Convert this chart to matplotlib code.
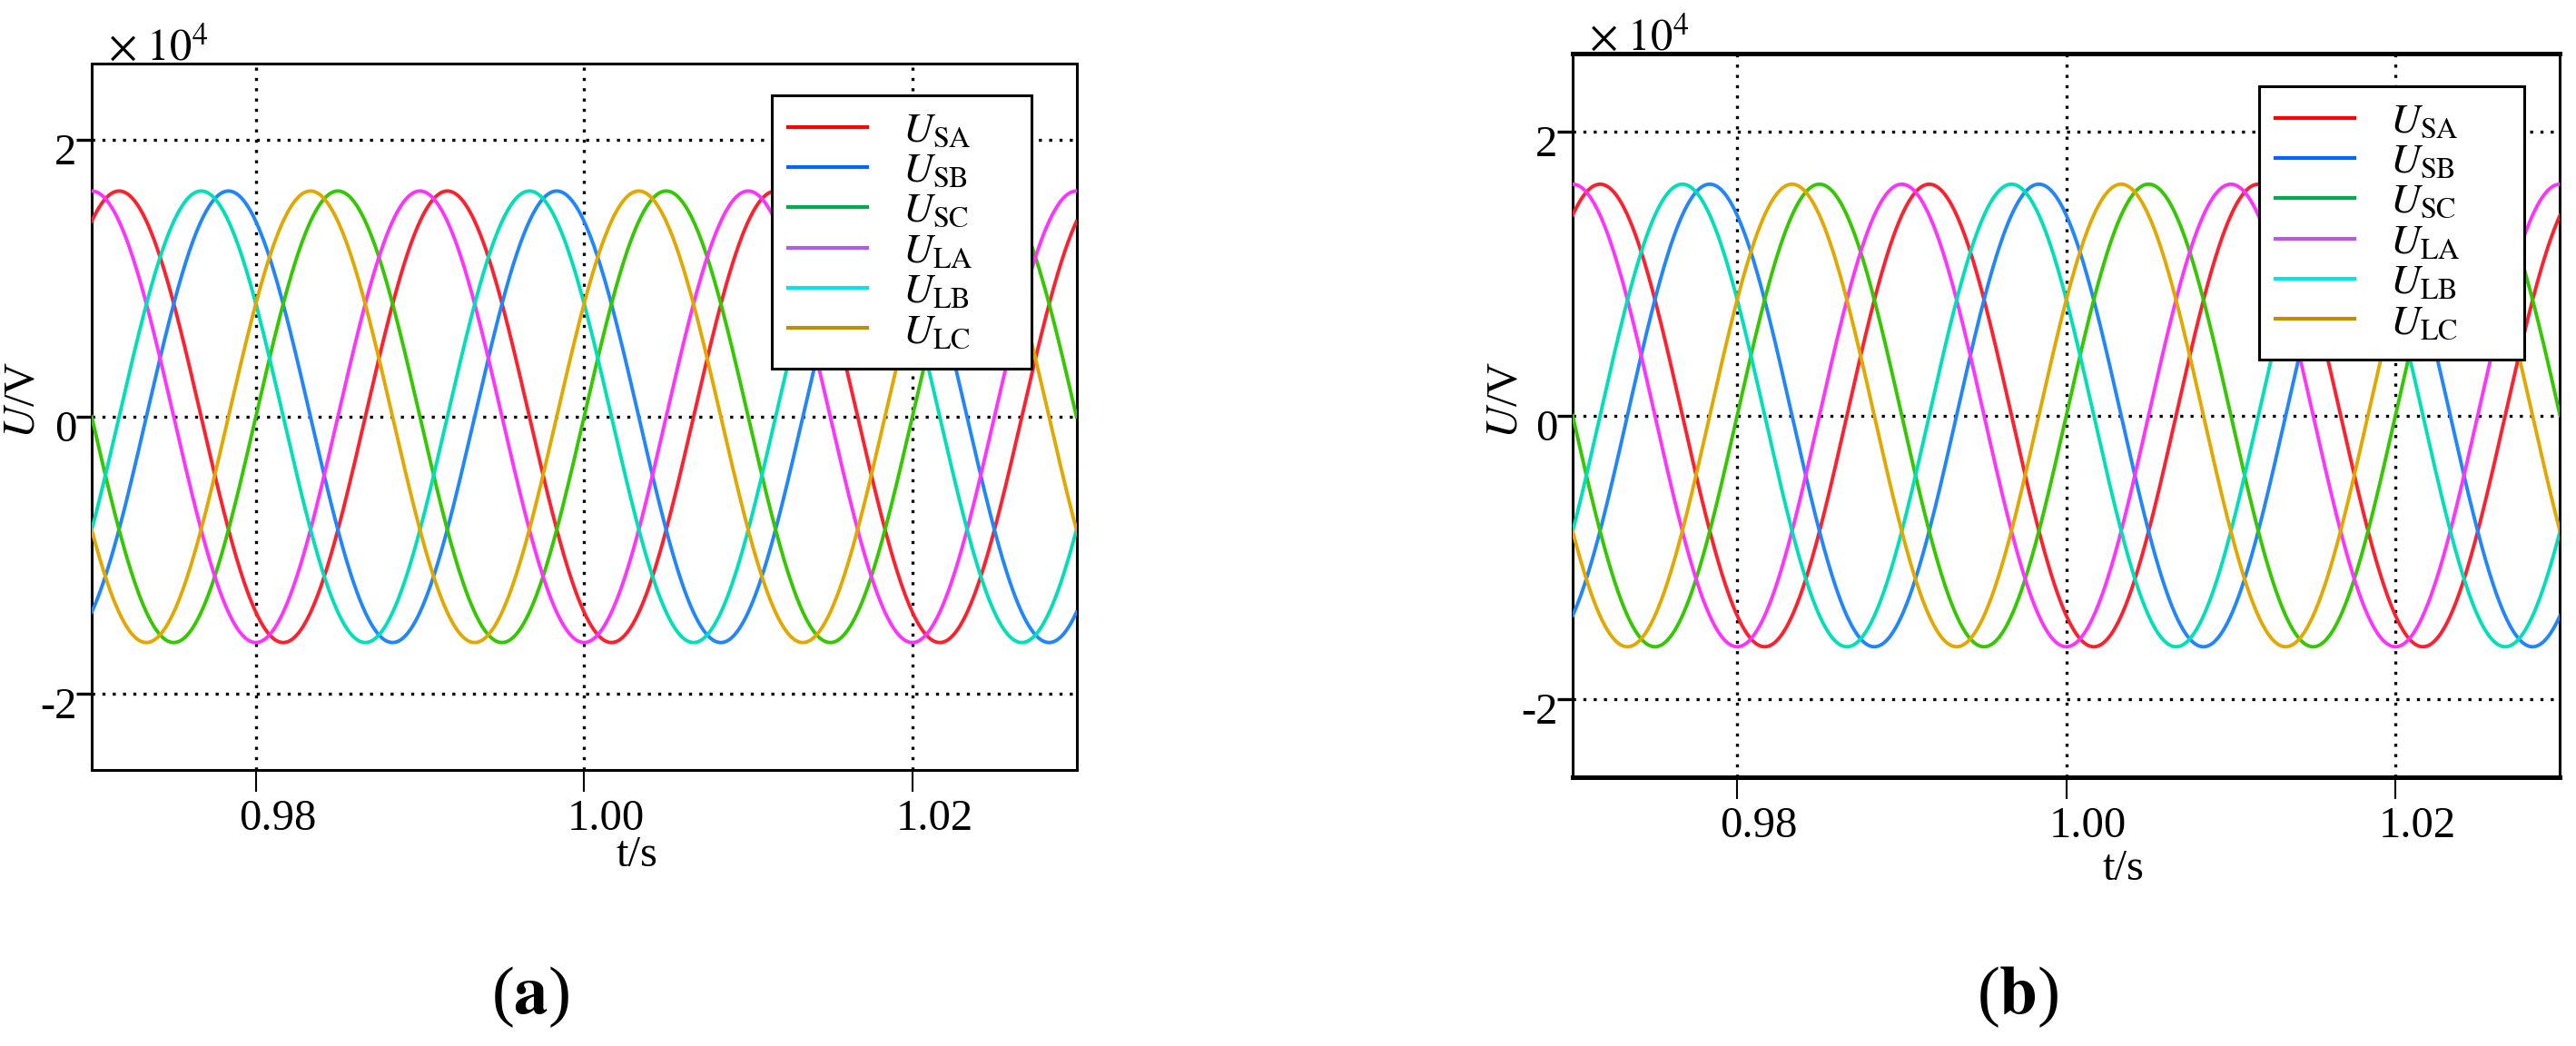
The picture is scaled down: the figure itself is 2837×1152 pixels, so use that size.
import numpy as np
import matplotlib.pyplot as plt
import matplotlib.transforms as mtransforms
from matplotlib.lines import Line2D

plt.rcParams['font.family'] = ['Liberation Serif', 'DejaVu Serif']
plt.rcParams['mathtext.fontset'] = 'stix'
plt.rcParams['axes.unicode_minus'] = False

# series: 50 Hz waves, amplitude and time of a peak
names = ['SA', 'SB', 'SC', 'LA', 'LB', 'LC']
amplitude = [1.63e4, 1.63e4, 1.63e4, 1.63e4, 1.63e4, 1.63e4]
peak_time = [0.99167, 0.99833, 1.00500, 0.99000, 0.99667, 1.00333]
freq = 50.0
line_colors = ['#FF1F2D', '#1F86FF', '#33C800', '#FF33FF', '#00E0B8', '#E2A800']
legend_colors = ['#FF0000', '#0066FF', '#00AA50', '#B45AE6', '#00E5E5', '#BF8F00']

xticks = [0.98, 1.00, 1.02]
xtick_labels = ['0.98', '1.00', '1.02']
yticks = [-2e4, 0, 2e4]
ytick_labels = ['-2', '0', '2']
captions = ['a', 'b']

t = np.linspace(0.97, 1.03, 2400)

fig = plt.figure(figsize=(28.37, 11.52), dpi=100)

# layout of the two panels (figure fractions)
rects = [[0.0356, 0.2639, 0.3823, 0.6753], [0.6105, 0.2569, 0.3833, 0.6918]]
legend_box = [(850, 105, 286, 282), (2488, 95, 292, 289)]  # pixels: x, y(top), w, h
ylabel_pos = [(-0.049, 0.524), (-0.0475, 0.522)]
xlabel_pos = [(0.5536, -0.0925), (0.558, -0.0985)]
caption_pos = [(0.2059, 0.047), (0.7832, 0.047)]
spine_w = [[2.2, 2.2, 2.2, 2.2], [2.2, 3.6, 2.2, 3.6]]  # left, top, right, bottom

W, H = 2837.0, 1152.0

for k in range(2):
    ax = fig.add_axes(rects[k])
    for i in range(len(names)):
        u = amplitude[i] * np.cos(2 * np.pi * freq * (t - peak_time[i]))
        ax.plot(t, u, color=line_colors[i], lw=2.8, zorder=3)

    ax.set_xlim(0.97, 1.03)
    ax.set_ylim(-2.55e4, 2.55e4)
    ax.set_xticks(xticks)
    ax.set_xticklabels(xtick_labels)
    ax.set_yticks(yticks)
    ax.set_yticklabels(ytick_labels)
    ax.tick_params(axis='x', direction='out', length=17, width=1.5, pad=6, labelsize=35)
    ax.tick_params(axis='y', direction='out', length=12, width=2.4, pad=0, labelsize=35)
    ax.grid(True, color='black', linestyle=(0, (1, 2.4)), linewidth=2.4)

    for lbl in ax.get_xticklabels():
        lbl.set_transform(lbl.get_transform() + mtransforms.ScaledTranslation(0.24, 0, fig.dpi_scale_trans))
    for lbl in ax.get_yticklabels():
        lbl.set_transform(lbl.get_transform() + mtransforms.ScaledTranslation(0, -0.1, fig.dpi_scale_trans))

    for side, w in zip(['left', 'top', 'right', 'bottom'], spine_w[k]):
        ax.spines[side].set_linewidth(w)

    ax.text(0.017, 1.004, r'$\times\ 10^{4}$', transform=ax.transAxes, fontsize=35, va='baseline', ha='left')
    ax.set_ylabel(r'$U$/V', fontsize=35)
    ax.yaxis.set_label_coords(*ylabel_pos[k])
    ax.set_xlabel('t/s', fontsize=35)
    ax.xaxis.set_label_coords(*xlabel_pos[k])

    handles = [Line2D([], [], color=c, lw=3) for c in legend_colors]
    labels = [r'$U_{\rm ' + n + '}$' for n in names]
    bx, by, bw, bh = legend_box[k]
    anchor = (bx / W, 1 - (by + bh) / H, bw / W, bh / H)
    leg = ax.legend(handles, labels, loc='upper left', bbox_to_anchor=anchor, mode='expand',
                    bbox_transform=fig.transFigure, borderaxespad=0, fontsize=33,
                    handlelength=1.9, handletextpad=0.85, labelspacing=0.04,
                    borderpad=0.4, fancybox=False, framealpha=1, edgecolor='black')
    leg.get_frame().set_linewidth(2.2)
    leg.set_zorder(5)

    fig.text(caption_pos[k][0], caption_pos[k][1], '($\\mathbf{' + captions[k] + '}$)',
             fontsize=54, ha='center', va='center')

plt.savefig('out.png', dpi=100)
